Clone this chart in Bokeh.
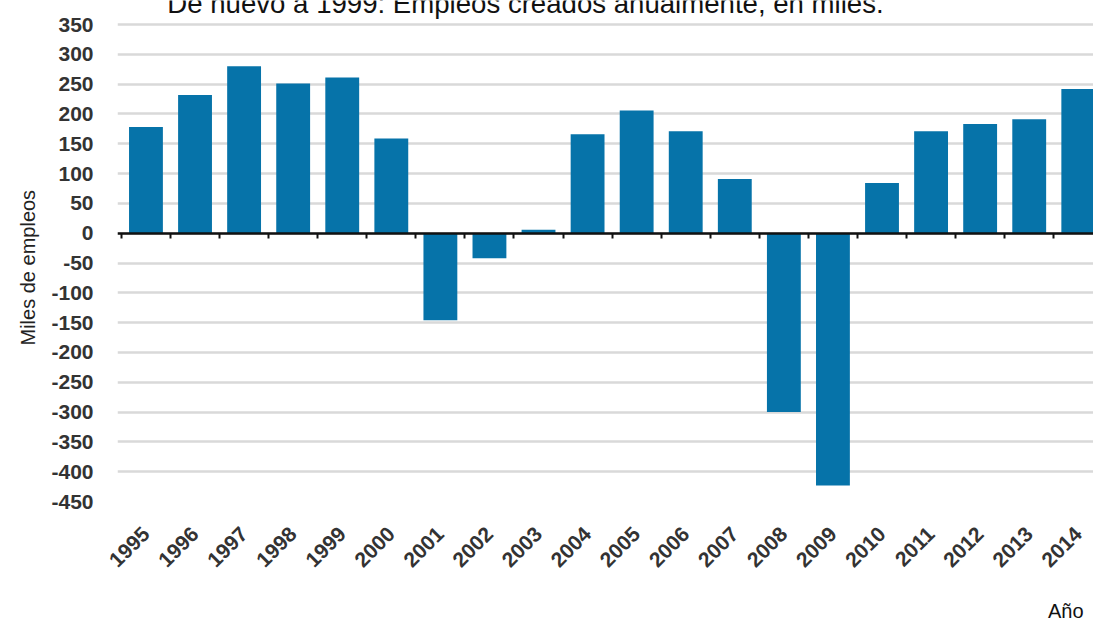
import math

from bokeh.embed import file_html
from bokeh.models import (ColumnDataSource, FixedTicker, Grid, Label,
                          LinearAxis, Range1d, Title)
from bokeh.plotting import figure
from bokeh.resources import INLINE

# Empleos creados cada año (miles)
years = ["1995", "1996", "1997", "1998", "1999", "2000", "2001", "2002",
         "2003", "2004", "2005", "2006", "2007", "2008", "2009", "2010",
         "2011", "2012", "2013", "2014"]
jobs = [178, 232, 280, 251, 261, 159, -146, -42, 6, 166, 206, 171, 91,
        -300, -423, 84, 171, 183, 191, 242]
y_ticks = list(range(-450, 351, 50))

title_text = "De nuevo a 1999: Empleos creados anualmente, en miles."
y_title = "Miles de empleos"
x_title = "Año"

BAR_COLOR = "#0673a9"
FONT = "Liberation Sans"
LABEL_COLOR = "#333333"

idx = list(range(len(years)))
source = ColumnDataSource(data=dict(x=idx, jobs=jobs, year=years))

# the frame runs up to the top edge so the heading can sit inside it
p = figure(
    frame_width=976, frame_height=501,
    x_range=Range1d(-0.58, 19.31), y_range=Range1d(-450, 390.3),
    output_backend="svg", toolbar_location=None,
    x_axis_type=None, y_axis_type=None,
)
p.min_border_left = 117
p.min_border_right = 0
p.min_border_top = 0
p.min_border_bottom = 121
p.outline_line_color = None
p.background_fill_color = "white"
p.border_fill_color = "white"

p.vbar(x="x", top="jobs", bottom=0, width=0.69, source=source,
       fill_color=BAR_COLOR, line_color=None)

# vertical axis, labelled every 50
yaxis = LinearAxis(ticker=FixedTicker(ticks=y_ticks),
                   major_label_overrides={v: str(v) for v in y_ticks})
yaxis.axis_line_color = None
yaxis.major_tick_line_color = None
yaxis.minor_tick_line_color = None
yaxis.major_label_text_font = FONT
yaxis.major_label_text_font_size = "21px"
yaxis.major_label_text_font_style = "bold"
yaxis.major_label_text_color = LABEL_COLOR
yaxis.major_label_standoff = 18
p.add_layout(yaxis, "left")

# axis title, measured from the bottom of the frame
p.add_layout(Title(text=y_title, text_font=FONT, text_font_size="20px",
                   text_font_style="normal", text_color="#222222",
                   align="left", offset=156, standoff=20), "left")

p.add_layout(Grid(dimension=1, ticker=yaxis.ticker,
                  grid_line_color="#d9d9d9", grid_line_width=2.5))

# year labels below the frame
xaxis = LinearAxis(ticker=FixedTicker(ticks=idx),
                   major_label_overrides={i: y for i, y in zip(idx, years)})
xaxis.axis_line_color = None
xaxis.major_tick_line_color = None
xaxis.minor_tick_line_color = None
xaxis.major_label_orientation = math.pi / 4
xaxis.major_label_text_font = FONT
xaxis.major_label_text_font_size = "21px"
xaxis.major_label_text_font_style = "bold"
xaxis.major_label_text_color = LABEL_COLOR
xaxis.major_label_standoff = 23
p.add_layout(xaxis, "below")

p.add_layout(Title(text=x_title, text_font=FONT, text_font_size="20px",
                   text_font_style="normal", text_color="#111111",
                   align="right", offset=10, standoff=43), "below")

# zero line with category separators
bounds = [i - 0.5 for i in range(len(years) + 1)]
zero_axis = LinearAxis(ticker=FixedTicker(ticks=bounds), fixed_location=0)
zero_axis.axis_line_color = "#111111"
zero_axis.axis_line_width = 2.5
zero_axis.major_tick_line_color = "#111111"
zero_axis.major_tick_line_width = 2
zero_axis.major_tick_out = 5
zero_axis.major_tick_in = 0
zero_axis.minor_tick_line_color = None
zero_axis.major_label_text_alpha = 0
zero_axis.major_label_text_font_size = "1px"
p.add_layout(zero_axis, "below")

# heading, partly running off the top edge
p.add_layout(Label(x=408, y=498, x_units="screen", y_units="screen",
                   text=title_text, text_align="center",
                   text_baseline="alphabetic", text_font=FONT,
                   text_font_size="27.6px", text_color="#111111"))

open("out.html", "w").write(file_html(p, INLINE))
